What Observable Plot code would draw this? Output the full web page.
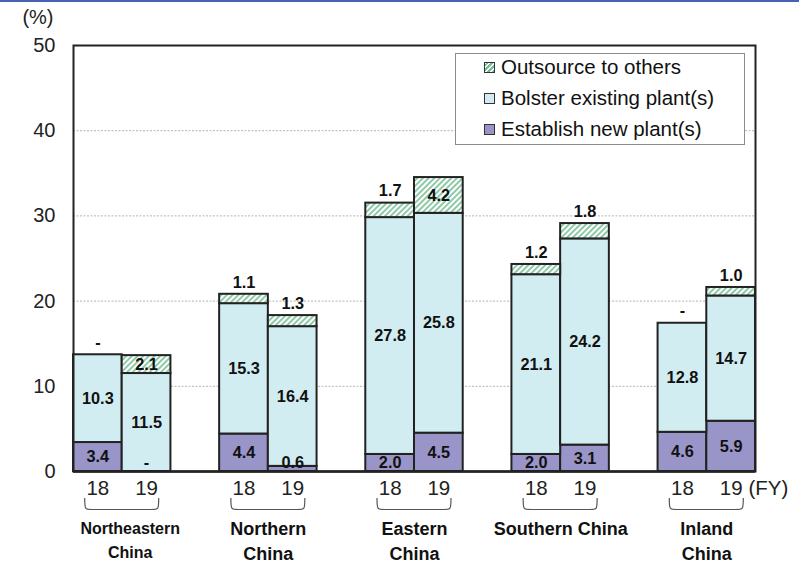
<!DOCTYPE html>
<html><head><meta charset="utf-8">
<script src="https://cdn.jsdelivr.net/npm/d3@7"></script>
<script src="https://cdn.jsdelivr.net/npm/@observablehq/plot@0.6"></script>
<style>
body{margin:0;background:#fff;font-family:"Liberation Sans",Arial,sans-serif;}
#wrap{position:relative;width:807px;height:564px;overflow:hidden}
#chart svg{display:block}
#topline{position:absolute;left:0;top:0;width:799px;height:2px;background:#4563b5}
#legend{position:absolute;left:455px;top:53px;width:290px;height:92px;border:1px solid #8c8c8c;background:#fff;box-sizing:border-box}
.item{position:absolute;left:28px;height:26px;display:flex;align-items:center;font-size:20.5px;color:#111;white-space:nowrap}
.sw{width:9px;height:9px;border:1px solid #333;margin-right:6px;flex:none}
</style></head>
<body><div id="wrap"><div id="chart"></div><div id="topline"></div><div id="legend"></div></div>
<script>
// ---- data ----
const regions = ["Northeastern\nChina", "Northern\nChina", "Eastern\nChina", "Southern China", "Inland\nChina"];
const years = ["18", "19"];
const establish = [3.4, null, 4.4, 0.6, 2.0, 4.5, 2.0, 3.1, 4.6, 5.9];
const bolster   = [10.3, 11.5, 15.3, 16.4, 27.8, 25.8, 21.1, 24.2, 12.8, 14.7];
const outsource = [null, 2.1, 1.1, 1.3, 1.7, 4.2, 1.2, 1.8, null, 1.0];
const seriesNames = ["Outsource to others", "Bolster existing plant(s)", "Establish new plant(s)"];
const yTicks = [0, 10, 20, 30, 40, 50];
const yUnit = "(%)";
const fyLabel = "(FY)";

// ---- styles ----
const C_EST = "#9a95c8", C_BOL = "#d2edf1", C_HATCH = "#72bd92";
const FONT = '"Liberation Sans", Arial, sans-serif';

const bars = [];
regions.forEach((reg, r) => years.forEach((yr, k) => {
  const i = r * 2 + k;
  const e = establish[i] ?? 0, b = bolster[i], o = outsource[i] ?? 0;
  bars.push({r, k, slot: r * 3 + k, year: yr, e, b, o, eRaw: establish[i], bRaw: bolster[i], oRaw: outsource[i]});
}));
const nSlots = regions.length * 3 - 1;
const fmt = v => v == null ? "-" : v.toFixed(1);
const groups = regions.map((name, r) => ({name, r, c: r * 3 + 1}));

function braces(index, scales, values, dimensions) {
  const ns = "http://www.w3.org/2000/svg";
  const g = document.createElementNS(ns, "g");
  const bottom = dimensions.height - dimensions.marginBottom;
  const y0 = bottom + 27, y1 = bottom + 38.5;
  groups.forEach(d => {
    const cx = scales.x(d.c);
    const a = cx - 37, b = cx + 37;
    const p = document.createElementNS(ns, "path");
    p.setAttribute("d", `M${a},${y0} C${a},${y1} ${a},${y1} ${a + 8},${y1} L${b - 8},${y1} C${b},${y1} ${b},${y1} ${b},${y0}`);
    p.setAttribute("fill", "none");
    p.setAttribute("stroke", "#555");
    p.setAttribute("stroke-width", "1.2");
    g.appendChild(p);
  });
  return g;
}

const xs1 = d => d.slot, xs2 = d => d.slot + 1, xc = d => d.slot + 0.5;
const LBL = {fontSize: 16.3, fontWeight: "bold", fill: "#111"};

const svg = Plot.plot({
  width: 807, height: 564,
  marginLeft: 73, marginRight: 52, marginTop: 45, marginBottom: 93,
  style: {fontFamily: FONT, fontSize: "19px", color: "#222", background: "transparent"},
  x: {domain: [0, nSlots], axis: null},
  y: {domain: [0, 50], axis: null},
  marks: [
    Plot.ruleY(yTicks.filter(t => t > 0 && t < 50), {stroke: "#b4b4b4", strokeDasharray: "2,1.5"}),
    Plot.rectY(bars.filter(d => d.e > 0), {x1: xs1, x2: xs2, y1: () => 0, y2: d => d.e, fill: C_EST, stroke: "#222", strokeWidth: 2}),
    Plot.rectY(bars, {x1: xs1, x2: xs2, y1: d => d.e, y2: d => d.e + d.b, fill: C_BOL, stroke: "#222", strokeWidth: 2}),
    Plot.rectY(bars.filter(d => d.o > 0), {x1: xs1, x2: xs2, y1: d => d.e + d.b, y2: d => d.e + d.b + d.o, fill: "url(#hatch)", stroke: "#222", strokeWidth: 2}),
    Plot.frame({stroke: "#222", strokeWidth: 2}),
    Plot.ruleY([0], {stroke: "#222", strokeWidth: 2.5}),
    Plot.axisY(yTicks, {tickSize: 0, tickPadding: 18, fontSize: 20, tickFormat: d => d, label: null, fill: "#222"}),
    Plot.text([yUnit], {frameAnchor: "top-left", lineAnchor: "middle", dx: -20, dy: -28, textAnchor: "end", fontSize: 20, fill: "#222"}),
    // value labels
    Plot.text(bars, {x: xc, y: d => Math.max(d.e / 2, 1.0), text: d => fmt(d.eRaw), ...LBL}),
    Plot.text(bars, {x: xc, y: d => d.e + d.b / 2, text: d => fmt(d.bRaw), ...LBL}),
    Plot.text(bars.filter(d => d.o >= 2), {x: xc, y: d => d.e + d.b + d.o / 2, text: d => fmt(d.oRaw), ...LBL}),
    Plot.text(bars.filter(d => d.o < 2), {x: xc, y: d => d.e + d.b + d.o, dy: -12, text: d => fmt(d.oRaw), ...LBL}),
    // x labels
    Plot.text(bars, {x: xc, text: "year", frameAnchor: "bottom", lineAnchor: "middle", dy: 17, fontSize: 20.5, fill: "#222"}),
    Plot.text([{x: nSlots, t: fyLabel}], {x: "x", text: "t", frameAnchor: "bottom", lineAnchor: "middle", dy: 17, dx: -7, textAnchor: "start", fontSize: 20.5, fill: "#222"}),
    braces,
    Plot.text(groups.filter(d => d.r > 0), {x: "c", text: "name", frameAnchor: "bottom", lineAnchor: "top", dy: 45.5, fontSize: 18, fontWeight: "bold", lineHeight: 1.4, fill: "#111"}),
    Plot.text(groups.filter(d => d.r === 0), {x: "c", text: "name", frameAnchor: "bottom", lineAnchor: "top", dy: 45.5, dx: 8, fontSize: 16, fontWeight: "bold", lineHeight: 1.5, fill: "#111"})
  ]
});

const defs = d3.select(svg).insert("defs", ":first-child");
const pat = defs.append("pattern").attr("id", "hatch").attr("patternUnits", "userSpaceOnUse")
  .attr("width", 4).attr("height", 4).attr("patternTransform", "rotate(45)");
pat.append("rect").attr("width", 4).attr("height", 4).attr("fill", "#fff");
pat.append("line").attr("x1", 1).attr("y1", 0).attr("x2", 1).attr("y2", 4).attr("stroke", C_HATCH).attr("stroke-width", 1.6);

document.getElementById("chart").appendChild(svg);

// legend
const legend = document.getElementById("legend");
const swatches = [
  `background: repeating-linear-gradient(-45deg, ${C_HATCH} 0 1.5px, #fff 1.5px 3.5px)`,
  `background:${C_BOL}`,
  `background:${C_EST}`
];
seriesNames.forEach((name, i) => {
  const it = document.createElement("div");
  it.className = "item";
  it.style.top = (0 + i * 31) + "px";
  it.innerHTML = `<span class="sw" style="${swatches[i]}"></span><span>${name}</span>`;
  legend.appendChild(it);
});
</script>
</body></html>
